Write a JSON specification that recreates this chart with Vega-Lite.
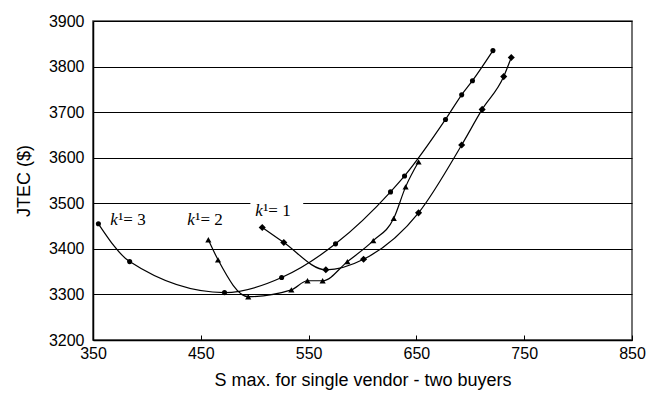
{
  "$schema": "https://vega.github.io/schema/vega-lite/v6.json",
  "width": 539,
  "height": 319,
  "autosize": {"type": "none"},
  "padding": {"left": 93, "top": 21, "right": 29, "bottom": 55},
  "background": "white",
  "datasets": {
    "curves": [
      {"series": "k3", "s": 355, "jtec": 3455},
      {"series": "k3", "s": 384, "jtec": 3372},
      {"series": "k3", "s": 472, "jtec": 3304},
      {"series": "k3", "s": 525, "jtec": 3337},
      {"series": "k3", "s": 575, "jtec": 3411},
      {"series": "k3", "s": 626, "jtec": 3525},
      {"series": "k3", "s": 639, "jtec": 3560},
      {"series": "k3", "s": 677, "jtec": 3684},
      {"series": "k3", "s": 692, "jtec": 3738},
      {"series": "k3", "s": 702, "jtec": 3769},
      {"series": "k3", "s": 721, "jtec": 3835},
      {"series": "k2", "s": 457, "jtec": 3420},
      {"series": "k2", "s": 466, "jtec": 3376},
      {"series": "k2", "s": 494, "jtec": 3295},
      {"series": "k2", "s": 534, "jtec": 3310},
      {"series": "k2", "s": 549, "jtec": 3330},
      {"series": "k2", "s": 563, "jtec": 3330},
      {"series": "k2", "s": 586, "jtec": 3372},
      {"series": "k2", "s": 610, "jtec": 3418},
      {"series": "k2", "s": 629, "jtec": 3467},
      {"series": "k2", "s": 640, "jtec": 3536},
      {"series": "k2", "s": 652, "jtec": 3591},
      {"series": "k1", "s": 507, "jtec": 3447},
      {"series": "k1", "s": 527, "jtec": 3414},
      {"series": "k1", "s": 566, "jtec": 3354},
      {"series": "k1", "s": 601, "jtec": 3377},
      {"series": "k1", "s": 652, "jtec": 3479},
      {"series": "k1", "s": 692, "jtec": 3628},
      {"series": "k1", "s": 711, "jtec": 3706},
      {"series": "k1", "s": 731, "jtec": 3778},
      {"series": "k1", "s": 738, "jtec": 3820}
    ],
    "labels": [
      {"s": 366, "jtec": 3452, "rest": "¹= 3"},
      {"s": 437.5, "jtec": 3452, "rest": "¹= 2"},
      {"s": 500.5, "jtec": 3473, "rest": "¹= 1"}
    ],
    "box": [
      {"s": 496, "s2": 545, "jtec": 3482, "jtec2": 3516}
    ]
  },
  "encoding": {
    "x": {"field": "s", "type": "quantitative",
      "scale": {"domain": [350, 850], "nice": false, "zero": false},
      "axis": {"values": [350, 450, 550, 650, 750, 850], "format": "d", "title": "S max. for single vendor - two buyers"}},
    "y": {"field": "jtec", "type": "quantitative",
      "scale": {"domain": [3200, 3900], "nice": false, "zero": false},
      "axis": {"values": [3200, 3300, 3400, 3500, 3600, 3700, 3800, 3900], "format": "d", "title": "JTEC ($)"}}
  },
  "layer": [
    {
      "data": {"name": "box"},
      "mark": {"type": "rect", "color": "white"},
      "encoding": {
        "x2": {"field": "s2"},
        "y2": {"field": "jtec2"}
      }
    },
    {
      "data": {"name": "curves"},
      "mark": {"type": "line", "color": "black", "strokeWidth": 1.2, "interpolate": "monotone"},
      "encoding": {
        "detail": {"field": "series"}
      }
    },
    {
      "data": {"name": "curves"},
      "mark": {"type": "point", "filled": true, "color": "black", "opacity": 1},
      "encoding": {
        "shape": {"field": "series", "type": "nominal", "legend": null,
          "scale": {"domain": ["k3", "k2", "k1"], "range": ["circle", "triangle-up", "diamond"]}},
        "size": {"field": "series", "type": "nominal", "legend": null,
          "scale": {"domain": ["k3", "k2", "k1"], "range": [26, 50, 36]}}
      }
    },
    {
      "data": {"name": "labels"},
      "mark": {"type": "text", "text": "k", "font": "Liberation Serif", "fontStyle": "italic", "fontSize": 17, "align": "left", "baseline": "alphabetic", "color": "black"},
      "encoding": {}
    },
    {
      "data": {"name": "labels"},
      "mark": {"type": "text", "font": "Liberation Serif", "fontSize": 17, "align": "left", "baseline": "alphabetic", "dx": 8, "color": "black"},
      "encoding": {
        "text": {"field": "rest"}
      }
    }
  ],
  "config": {
    "view": {"stroke": "#444", "strokeWidth": 1.5},
    "axis": {
      "labelFont": "Liberation Sans",
      "titleFont": "Liberation Sans",
      "labelFontSize": 16,
      "titleFontSize": 18,
      "titleFontWeight": "normal",
      "labelColor": "black",
      "titleColor": "black",
      "domainColor": "black",
      "domainWidth": 1.5,
      "tickColor": "black"
    },
    "axisX": {
      "grid": false,
      "tickSize": -5,
      "labelFlush": false,
      "labelPadding": 10,
      "titlePadding": 10
    },
    "axisY": {
      "gridColor": "black",
      "gridOpacity": 1,
      "gridWidth": 1,
      "ticks": false,
      "labelFlush": false,
      "labelPadding": 9,
      "titlePadding": 15
    }
  }
}
